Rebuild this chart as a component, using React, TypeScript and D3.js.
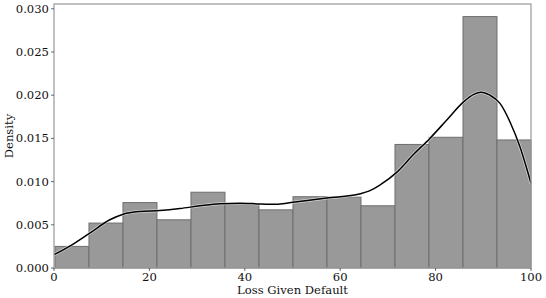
import React from "react";
import * as d3 from "d3";

const binStart = 0.2;
const binEnd = 100;
const densities = [0.0025, 0.0052, 0.00757, 0.00558, 0.00877, 0.00736, 0.00673, 0.00825, 0.0082, 0.0072, 0.0143, 0.01513, 0.0291, 0.01482];

const kdeX = [0, 3.5, 7.5, 11.7, 14.5, 18, 22.2, 26.4, 30.6, 34.8, 39, 43.1, 47, 50.1, 57.2, 64.2, 66, 68.3, 71.9, 75.3, 78.8, 82.3, 85.8, 88, 89.5, 91.4, 93.5, 95.6, 97.7, 100];
const kdeY = [0.00154, 0.0026, 0.00404, 0.00558, 0.00623, 0.00654, 0.00665, 0.00688, 0.0072, 0.00745, 0.0075, 0.00742, 0.00738, 0.0076, 0.0081, 0.0086, 0.0089, 0.0096, 0.0111, 0.0131, 0.0150, 0.0171, 0.0192, 0.0201, 0.02035, 0.0200, 0.01905, 0.0169, 0.0140, 0.0098];

const xTicks = [0, 20, 40, 60, 80, 100];
const yTicks = [0, 0.005, 0.01, 0.015, 0.02, 0.025, 0.03];

const W = 546;
const H = 298;
const m = { left: 54, right: 15, top: 4, bottom: 30 };
const font = "DejaVu Serif";

export default function App() {
  const x = d3.scaleLinear().domain([0, 100]).range([m.left, W - m.right]);
  const yMax = d3.max(densities)! * 1.05;
  const y = d3.scaleLinear().domain([0, yMax]).range([H - m.bottom, m.top]);
  const bw = (binEnd - binStart) / densities.length;
  const line = d3
    .line<number>()
    .x((_, i) => x(kdeX[i]))
    .y((d) => y(d))
    .curve(d3.curveMonotoneX);

  return (
    <svg width={W} height={H} style={{ position: "absolute", left: 0, top: 0, background: "#fff" }}>
      {densities.map((d, i) => {
        const x0 = x(binStart + i * bw);
        const x1 = x(binStart + (i + 1) * bw);
        return (
          <rect key={i} x={x0} y={y(d)} width={x1 - x0} height={y(0) - y(d)} fill="#999999" stroke="#6e6e6e" strokeWidth={1} />
        );
      })}
      <path d={line(kdeY) ?? ""} fill="none" stroke="#ffffff" strokeWidth={3} strokeOpacity={0.6} />
      <path d={line(kdeY) ?? ""} fill="none" stroke="#000" strokeWidth={1.5} />
      <rect x={m.left} y={m.top} width={W - m.right - m.left} height={H - m.bottom - m.top} fill="none" stroke="#a0a0a0" strokeWidth={1.3} />
      {xTicks.map((t) => (
        <g key={t} transform={`translate(${x(t)},${H - m.bottom})`}>
          <line y1={0} y2={3} stroke="#444" strokeWidth={0.8} />
          <text y={12.5} textAnchor="middle" fontFamily={font} fontSize={11.6} fill="#111">
            {t}
          </text>
        </g>
      ))}
      {yTicks.map((t) => (
        <g key={t} transform={`translate(${m.left},${y(t)})`}>
          <line x1={0} x2={-3} stroke="#444" strokeWidth={0.8} />
          <text x={-5} dy="0.35em" textAnchor="end" fontFamily={font} fontSize={11.6} fill="#111">
            {t.toFixed(3)}
          </text>
        </g>
      ))}
      <text x={(m.left + W - m.right) / 2} y={294} textAnchor="middle" fontFamily={font} fontSize={11.6} fill="#111">
        Loss Given Default
      </text>
      <text transform={`translate(13,${(m.top + H - m.bottom) / 2}) rotate(-90)`} textAnchor="middle" fontFamily={font} fontSize={11.6} fill="#111">
        Density
      </text>
    </svg>
  );
}
